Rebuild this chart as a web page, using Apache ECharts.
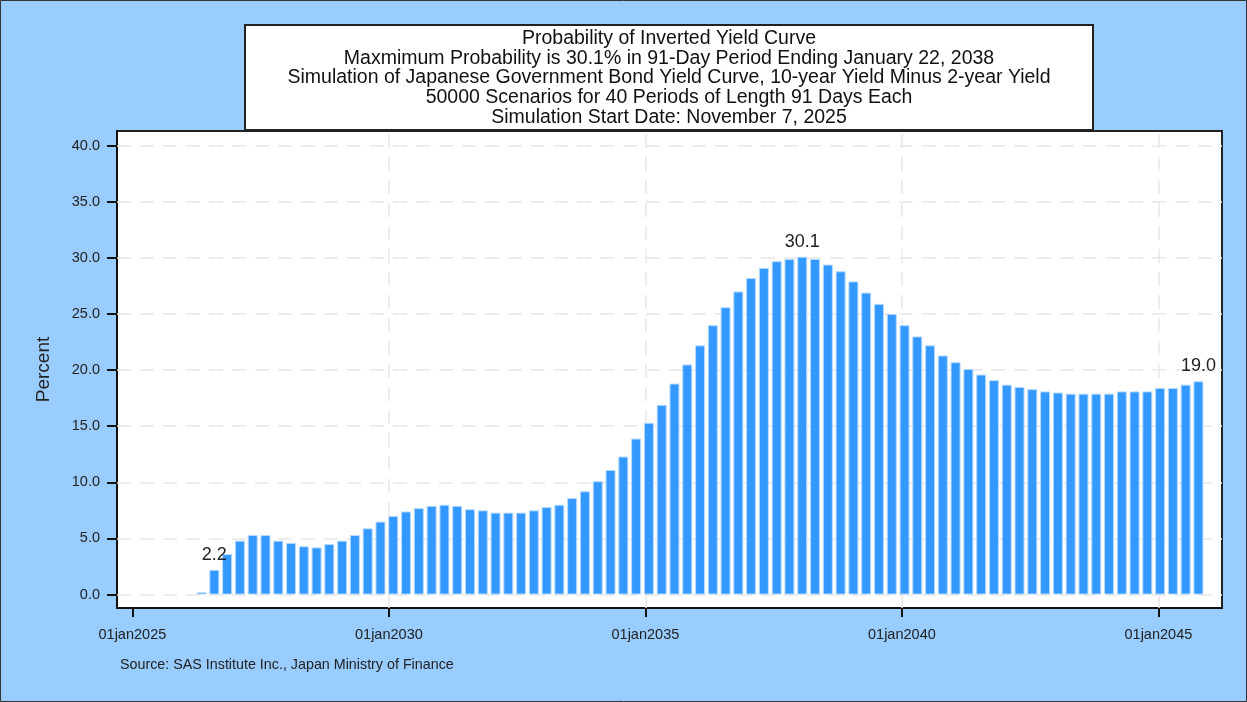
<!DOCTYPE html>
<html>
<head>
<meta charset="utf-8">
<script src="https://cdn.jsdelivr.net/npm/echarts@6/dist/echarts.min.js"></script>
<style>
html,body{margin:0;padding:0;background:#99ccff;}
#chart{width:1247px;height:702px;}
</style>
</head>
<body>
<div id="chart"></div>
<script>
// ---- Data ----
const simulationStart = Date.UTC(2025, 10, 7);   // November 7, 2025
const periodLengthDays = 91;
// Probability (%) of an inverted yield curve, per 91-day period (period 1 .. 80)
const probability = [
  0.0, 0.2, 2.2, 3.6, 4.8, 5.3, 5.3, 4.8, 4.6, 4.3,
  4.2, 4.5, 4.8, 5.3, 5.9, 6.5, 7.0, 7.4, 7.7, 7.9,
  8.0, 7.9, 7.6, 7.5, 7.3, 7.3, 7.3, 7.5, 7.8, 8.0,
  8.6, 9.2, 10.1, 11.1, 12.3, 13.9, 15.3, 16.9, 18.8, 20.5,
  22.2, 24.0, 25.6, 27.0, 28.2, 29.1, 29.7, 29.9, 30.1, 29.9,
  29.4, 28.8, 27.9, 26.9, 25.9, 25.0, 24.0, 23.0, 22.2, 21.3,
  20.7, 20.1, 19.6, 19.1, 18.7, 18.5, 18.3, 18.1, 18.0, 17.9,
  17.9, 17.9, 17.9, 18.1, 18.1, 18.1, 18.4, 18.4, 18.7, 19.0
];
const labeledPeriods = [3, 49, 80];
const yTicks = [0, 5, 10, 15, 20, 25, 30, 35, 40];
const xTickYears = [2025, 2030, 2035, 2040, 2045];
const xGridYears = [2030, 2035, 2040, 2045];
const titleLines = [
  'Probability of Inverted Yield Curve',
  'Maxmimum Probability is 30.1% in 91-Day Period Ending January 22, 2038',
  'Simulation of Japanese Government Bond Yield Curve, 10-year Yield Minus 2-year Yield',
  '50000 Scenarios for 40 Periods of Length 91 Days Each',
  'Simulation Start Date: November 7, 2025'
];
const sourceText = 'Source: SAS Institute Inc., Japan Ministry of Finance';

// ---- Build ----
function toDecimalYear(ms) {
  const y = new Date(ms).getUTCFullYear();
  const a = Date.UTC(y, 0, 1), b = Date.UTC(y + 1, 0, 1);
  return y + (ms - a) / (b - a);
}
const seriesData = probability.map((v, i) => {
  const period = i + 1;
  const x = toDecimalYear(simulationStart + period * periodLengthDays * 86400000);
  const item = { value: [x, v] };
  if (v === 0) item.itemStyle = { borderWidth: 0 };
  if (labeledPeriods.includes(period)) item.label = { show: true };
  return item;
});

const FONT = '"Liberation Sans", Arial, Helvetica, sans-serif';
const chart = echarts.init(document.getElementById('chart'), null, { renderer: 'canvas' });
const gridLine = { color: '#e8e8e8', width: 1.5, type: [14, 9] };

chart.setOption({
  backgroundColor: '#99ccff',
  animation: false,
  textStyle: { fontFamily: FONT },
  grid: {
    left: 117, right: 25, top: 131, bottom: 94,
    show: true, backgroundColor: '#ffffff', borderColor: '#222', borderWidth: 2
  },
  xAxis: {
    type: 'value',
    min: 2024.70, max: 2046.24,
    axisLine: { show: true, onZero: false, lineStyle: { color: '#111', width: 2 } },
    axisTick: { show: true, length: 9, lineStyle: { color: '#111', width: 2 }, customValues: xTickYears },
    axisLabel: {
      customValues: xTickYears, margin: 19, fontSize: 14.5, color: '#222', fontFamily: FONT,
      formatter: v => '01jan' + Math.round(v)
    },
    splitLine: { show: false }
  },
  yAxis: {
    type: 'value',
    min: -1.2, max: 41.3,
    name: 'Percent', nameLocation: 'middle', nameRotate: 90, nameGap: 64,
    nameTextStyle: { fontSize: 19, color: '#222', fontFamily: FONT },
    axisLine: { show: true, onZero: false, lineStyle: { color: '#111', width: 2 } },
    axisTick: { show: true, length: 10, lineStyle: { color: '#111', width: 2 }, customValues: yTicks },
    axisLabel: {
      customValues: yTicks, margin: 17, fontSize: 14.5, color: '#222', fontFamily: FONT,
      formatter: v => v.toFixed(1)
    },
    splitLine: { show: false }
  },
  series: [{
    type: 'bar',
    data: seriesData,
    barWidth: 10,
    itemStyle: { color: '#3399ff', borderColor: '#b5d9ff', borderWidth: 1 },
    label: {
      show: false, position: 'top', distance: 6, fontSize: 18, color: '#222', fontFamily: FONT,
      formatter: p => p.value[1].toFixed(1)
    },
    markLine: {
      silent: true, symbol: 'none', z: 1, animation: false,
      label: { show: false },
      lineStyle: gridLine,
      data: yTicks.map(v => ({ yAxis: v })).concat(xGridYears.map(v => ({ xAxis: v })))
    }
  }],
  graphic: [
    {
      type: 'rect', z: 100,
      shape: { x: 245, y: 25, width: 848, height: 105 },
      style: { fill: '#ffffff', stroke: '#222', lineWidth: 2 }
    },
    {
      type: 'text', z: 101, x: 669, y: 29,
      style: {
        text: titleLines.join('\n'), fill: '#111', font: '19.5px ' + FONT,
        lineHeight: 19.6, align: 'center', verticalAlign: 'top'
      }
    },
    {
      type: 'text', z: 101, x: 120, y: 658,
      style: { text: sourceText, fill: '#222', font: '14.3px ' + FONT, verticalAlign: 'top' }
    },
    {
      type: 'rect', z: 100, silent: true,
      shape: { x: 0.5, y: 0.5, width: 1246, height: 701 },
      style: { fill: 'none', stroke: '#333', lineWidth: 1 }
    }
  ]
});
</script>
</body>
</html>
